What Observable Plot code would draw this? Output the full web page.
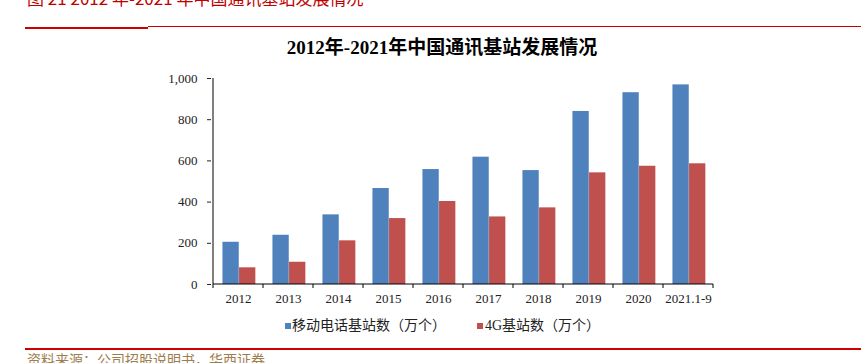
<!DOCTYPE html>
<html>
<head>
<meta charset="utf-8">
<script src="https://cdn.jsdelivr.net/npm/d3@7"></script>
<script src="https://cdn.jsdelivr.net/npm/@observablehq/plot@0.6"></script>
<style>
  html, body { margin: 0; padding: 0; background: #fff; }
  body { width: 861px; height: 363px; overflow: hidden; position: relative;
         font-family: "Liberation Serif", "Noto Sans CJK SC", serif; }
  .abs { position: absolute; white-space: nowrap; }
  #hdr { left: 27px; top: -12px; font-family: "Noto Sans CJK SC", sans-serif; font-size: 17px; color: #c00000; line-height: 20px; }
  #title { left: 442px; top: 36px; transform: translateX(-50%); font-size: 19px; font-weight: bold; color: #000; line-height: 24px; }
  #chart { left: 0; top: 65px; }
  .lg { font-size: 14px; color: #222; line-height: 16px; top: 318px; }
  .sw { width: 6px; height: 6px; top: 323px; }
  #foot { left: 27px; top: 350px; font-family: "Noto Sans CJK SC", sans-serif; font-size: 14px; color: #9e7e4e; line-height: 18px; }
</style>
</head>
<body>
<div id="hdr" class="abs">图 21 2012 年-2021 年中国通讯基站发展情况</div>
<div class="abs" style="left:25px;top:27px;width:123px;height:2px;background:#cc0000"></div>
<div class="abs" style="left:148px;top:26px;width:713px;height:1px;background:#cc0000"></div>
<div id="title" class="abs">2012年-2021年中国通讯基站发展情况</div>
<div id="chart" class="abs"></div>
<div class="abs sw" style="left:285px;background:#4f81bd"></div>
<div class="abs lg" style="left:292px">移动电话基站数（万个）</div>
<div class="abs sw" style="left:477px;background:#c0504d"></div>
<div class="abs lg" style="left:485px">4G基站数（万个）</div>
<div class="abs" style="left:25px;top:348px;width:836px;height:2px;background:#cc0000"></div>
<div id="foot" class="abs">资料来源：公司招股说明书，华西证券</div>
<script>
const categories = ["2012","2013","2014","2015","2016","2017","2018","2019","2020","2021.1-9"];
const mobileStations = [205, 239, 338, 466, 558, 618, 553, 840, 931, 969];
const fourGStations = [81, 108, 212, 320, 403, 328, 372, 542, 574, 586];
const seriesNames = ["移动电话基站数（万个）", "4G基站数（万个）"];
const seriesColors = ["#4f81bd", "#c0504d"];
const yTicks = [0, 200, 400, 600, 800, 1000];

const W = 861, H = 250, mL = 211, mR = 147, mT = 13, mB = 31;
const bw = (W - mL - mR) / categories.length;
const half = 16.6;

const rowsA = categories.map((c, i) => ({cat: c, value: mobileStations[i]}));
const rowsB = categories.map((c, i) => ({cat: c, value: fourGStations[i]}));

function axisLines(index, scales, values, dimensions) {
  const {x, y} = scales;
  const g = d3.create("svg:g").attr("stroke", "#000").attr("stroke-width", 1);
  const b = x.bandwidth();
  const y0 = y(0);
  const edges = categories.map(c => x(c)).concat([x(categories[categories.length - 1]) + b]);
  for (const e of edges) {
    g.append("line").attr("x1", e).attr("x2", e).attr("y1", y0).attr("y2", y0 + 4);
  }
  const xl = x(categories[0]);
  g.append("line").attr("x1", xl).attr("x2", xl).attr("y1", y(1000)).attr("y2", y0);
  g.append("line").attr("x1", xl).attr("x2", edges[edges.length - 1]).attr("y1", y0).attr("y2", y0);
  return g.node();
}

const plot = Plot.plot({
  width: W, height: H,
  marginLeft: mL, marginRight: mR, marginTop: mT, marginBottom: mB,
  style: {fontFamily: "'Liberation Serif', 'Noto Sans CJK SC', serif", fontSize: "13px", color: "#222", background: "transparent"},
  x: {domain: categories, paddingInner: 0, paddingOuter: 0, label: null},
  y: {domain: [0, 1000], label: null},
  marks: [
    Plot.barY(rowsA, {x: "cat", y: "value", fill: seriesColors[0],
      insetLeft: bw / 2 - half + 0.9, insetRight: bw / 2 - 0.9}),
    Plot.barY(rowsB, {x: "cat", y: "value", fill: seriesColors[1],
      insetLeft: bw / 2 + 0.9, insetRight: bw / 2 - half - 0.9}),
    Plot.axisX({tickSize: 0, tickPadding: 9, fontSize: 13}),
    Plot.axisY({ticks: yTicks, tickSize: 4, tickPadding: 10, tickFormat: d3.format(","), fontSize: 13}),
    axisLines
  ]
});
document.getElementById("chart").appendChild(plot);
</script>
</body>
</html>
